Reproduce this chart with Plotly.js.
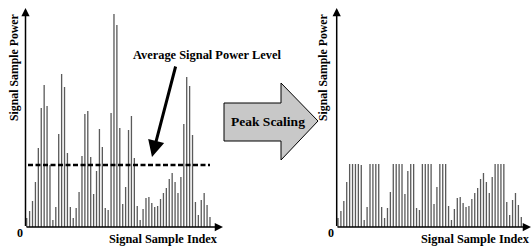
<!DOCTYPE html>
<html>
<head>
<meta charset="utf-8">
<script src="https://cdn.plot.ly/plotly-3.0.1.min.js"></script>
<style>html,body{margin:0;padding:0;background:#fff;}#chart{width:532px;height:247px;}</style>
</head>
<body>
<div id="chart"></div>
<script>
// Sample indices
var sampleIndex = [];
for (var i = 1; i <= 64; i++) sampleIndex.push(i);

// Original signal sample power
var originalPower = [9,16,26,45,79,119,142,121,62,7,20,93,153,140,74,20,9,19,35,71,
  113,116,70,33,56,98,80,19,17,114,213,202,99,23,40,97,111,69,21,7,
  18,29,30,24,20,21,28,34,39,48,54,45,34,50,103,150,141,92,25,12,
  27,34,22,10];

// Peak-scaled signal sample power
var scaledPower = [9,16,26,45,63,63,63,63,62,7,20,63,63,63,63,20,9,19,35,63,
  63,63,63,33,56,63,63,19,17,63,63,63,63,23,40,63,63,63,21,7,
  18,29,30,24,20,21,28,34,39,48,54,45,34,50,63,63,63,63,25,12,
  27,34,22,10];

// Average signal power level
var averageLevel = 62;

// Texts
var yLabel = 'Signal Sample Power';
var xLabel = 'Signal Sample Index';
var avgLabel = 'Average Signal Power Level';
var arrowLabel = 'Peak Scaling';
var originLabel = '0';

var W = 532, H = 247;
function px(x){ return x / W; }
function py(y){ return 1 - y / H; }

var barColor = '#5a5a5a';
var fam = 'Liberation Serif, DejaVu Serif, serif';
var font = {family: fam, size: 11, color: '#000'};

var traces = [
  {type: 'bar', x: sampleIndex, y: originalPower, xaxis: 'x', yaxis: 'y',
   width: 0.45, marker: {color: barColor, line: {width: 0}}, hoverinfo: 'skip'},
  {type: 'bar', x: sampleIndex, y: scaledPower, xaxis: 'x2', yaxis: 'y2',
   width: 0.45, marker: {color: barColor, line: {width: 0}}, hoverinfo: 'skip'}
];

function hiddenAxis(domain, range, anchor) {
  return {domain: domain, range: range, visible: false, showgrid: false,
          zeroline: false, fixedrange: true, anchor: anchor};
}

var yDomain = [py(227), py(9)];
var yRange = [0, 218];

function axisArrow(hx, hy, tx, ty) {
  return {xref: 'paper', yref: 'paper', x: px(hx), y: py(hy),
          ax: tx - hx, ay: ty - hy, text: '', showarrow: true,
          arrowhead: 2, arrowsize: 1.1, arrowwidth: 1.5, arrowcolor: '#000',
          standoff: 0, startstandoff: 0};
}

function label(x, y, text, size, angle) {
  return {xref: 'paper', yref: 'paper', x: px(x), y: py(y), text: text,
          showarrow: false, xanchor: 'center', yanchor: 'middle',
          textangle: angle || 0,
          font: {family: fam, size: size, color: '#000', weight: 'bold'}};
}

var annotations = [
  axisArrow(25.5, 8, 25.5, 227.5),
  axisArrow(223, 227, 25, 227),
  axisArrow(336.7, 8, 336.7, 227.5),
  axisArrow(531, 227, 336, 227),
  label(14, 68, yLabel, 11.8, -90),
  label(323, 68, yLabel, 11.8, -90),
  label(163.5, 238.5, xLabel, 12.3),
  label(475, 238.5, xLabel, 12.3),
  label(20, 233, originLabel, 12),
  label(331, 233, originLabel, 12),
  label(206.5, 55, avgLabel, 12.4),
  label(268, 121, arrowLabel, 13.5),
  {xref: 'paper', yref: 'paper', x: px(152), y: py(157), ax: 176 - 152, ay: 65 - 157,
   text: '', showarrow: true, arrowhead: 2, arrowsize: 1.1, arrowwidth: 3,
   arrowcolor: '#000', standoff: 0}
];

var bigArrowPath = 'M ' + px(224) + ' ' + py(103) +
  ' L ' + px(281) + ' ' + py(103) +
  ' L ' + px(281) + ' ' + py(83) +
  ' L ' + px(318) + ' ' + py(121) +
  ' L ' + px(281) + ' ' + py(160) +
  ' L ' + px(281) + ' ' + py(141) +
  ' L ' + px(224) + ' ' + py(141) + ' Z';

var shapes = [
  {type: 'line', xref: 'x', yref: 'y', x0: 1.45, x1: 64, y0: averageLevel, y1: averageLevel,
   line: {color: '#000', width: 2.5, dash: '5px,2.5px'}},
  {type: 'path', xref: 'paper', yref: 'paper', path: bigArrowPath,
   fillcolor: '#c8c8c8', line: {color: '#000', width: 1}}
];

var layout = {
  width: W, height: H,
  margin: {l: 0, r: 0, t: 0, b: 0, pad: 0},
  paper_bgcolor: '#fff', plot_bgcolor: 'rgba(0,0,0,0)',
  showlegend: false,
  xaxis: hiddenAxis([px(25.5), px(222)], [0.5876, 68.13], 'y'),
  yaxis: hiddenAxis(yDomain, yRange, 'x'),
  xaxis2: hiddenAxis([px(336.7), px(530.7)], [0.553, 67.23], 'y2'),
  yaxis2: hiddenAxis(yDomain, yRange, 'x2'),
  annotations: annotations,
  shapes: shapes,
  font: font
};

Plotly.newPlot('chart', traces, layout, {staticPlot: true, displayModeBar: false});
</script>
</body>
</html>
